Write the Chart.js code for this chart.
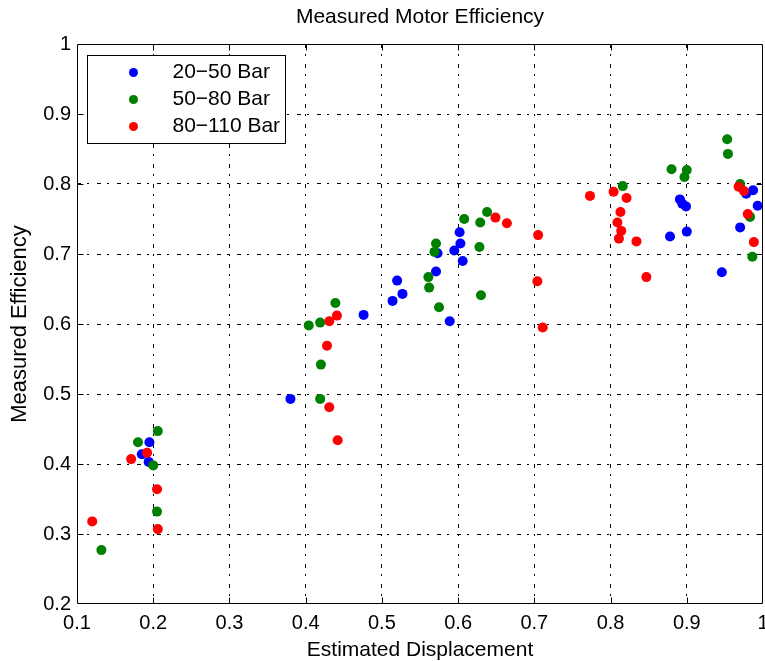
<!DOCTYPE html>
<html>
<head>
<meta charset="utf-8">
<title>Measured Motor Efficiency</title>
<script src="https://cdn.jsdelivr.net/npm/chart.js@4/dist/chart.umd.min.js"></script>
<style>
  html, body { margin: 0; padding: 0; background: #fff; }
  canvas { display: block; }
</style>
</head>
<body>
<canvas id="chart" width="765" height="661"></canvas>
<script>
// Pressure bands
const seriesLabels = ['20\u221250 Bar', '50\u221280 Bar', '80\u2212110 Bar'];
const seriesColors = ['#0000ff', '#008000', '#ff0000'];

// 20-50 Bar
const lowDisp = [0.195, 0.185, 0.194, 0.380, 0.476, 0.514, 0.527, 0.520, 0.571, 0.589, 0.573, 0.595, 0.602,
                 0.603, 0.606, 0.878, 0.900, 0.891, 0.894, 0.899, 0.946, 0.987, 0.978, 0.993, 0.970];
const lowEff  = [0.431, 0.414, 0.403, 0.493, 0.613, 0.633, 0.643, 0.662, 0.675, 0.604, 0.701, 0.705, 0.731,
                 0.715, 0.690, 0.725, 0.732, 0.778, 0.772, 0.768, 0.674, 0.791, 0.786, 0.769, 0.738];

// 50-80 Bar
const midDisp = [0.206, 0.180, 0.200, 0.205, 0.132, 0.419, 0.420, 0.404, 0.419, 0.439, 0.562, 0.561, 0.575,
                 0.571, 0.569, 0.608, 0.629, 0.638, 0.628, 0.630, 0.816, 0.880, 0.900, 0.897, 0.953, 0.954,
                 0.970, 0.983, 0.986];
const midEff  = [0.447, 0.431, 0.398, 0.332, 0.277, 0.493, 0.542, 0.598, 0.602, 0.630, 0.652, 0.667, 0.624,
                 0.715, 0.703, 0.750, 0.745, 0.760, 0.710, 0.641, 0.797, 0.821, 0.820, 0.810, 0.864, 0.843,
                 0.800, 0.753, 0.696];

// 80-110 Bar
const highDisp = [0.192, 0.171, 0.205, 0.206, 0.120, 0.431, 0.442, 0.428, 0.431, 0.441, 0.649, 0.664, 0.705,
                  0.704, 0.711, 0.773, 0.804, 0.821, 0.813, 0.809, 0.814, 0.811, 0.834, 0.847, 0.968, 0.975,
                  0.980, 0.988];
const highEff  = [0.416, 0.407, 0.364, 0.307, 0.318, 0.481, 0.434, 0.569, 0.604, 0.612, 0.752, 0.744, 0.727,
                  0.661, 0.595, 0.783, 0.789, 0.780, 0.760, 0.745, 0.733, 0.722, 0.718, 0.667, 0.796, 0.790,
                  0.757, 0.717];

// Axis ranges and tick positions
const xRange = [0.1, 1.0];
const yRange = [0.2, 1.0];
const tickStep = 0.1;
const xTickValues = [0.2, 0.3, 0.4, 0.5, 0.6, 0.7, 0.8, 0.9];
const yTickValues = [0.3, 0.4, 0.5, 0.6, 0.7, 0.8, 0.9];

const FONT = "'Liberation Sans', Arial, Helvetica, sans-serif";

function toPoints(xs, ys) {
  return xs.map((v, i) => ({ x: v, y: ys[i] }));
}

// Tick text without trailing zeros: 0.1 ... 1
const tickText = (v) => String(Number(v.toFixed(1)));

const seriesData = [toPoints(lowDisp, lowEff), toPoints(midDisp, midEff), toPoints(highDisp, highEff)];

const datasets = seriesData.map((pts, i) => ({
  label: seriesLabels[i],
  data: pts,
  backgroundColor: seriesColors[i],
  borderColor: seriesColors[i],
  borderWidth: 0,
  pointRadius: 5,
  pointHoverRadius: 5,
  order: 3 - i,      // later bands are painted on top
  clip: false
}));

// Box around the plot with inward tick marks on all four sides
const framePlugin = {
  id: 'frame',
  afterDatasetsDraw(chart) {
    const { ctx, chartArea: a, scales: { x, y } } = chart;
    const L = Math.round(a.left) + 0.5, R = Math.round(a.right) - 0.5;
    const T = Math.round(a.top) + 0.5, B = Math.round(a.bottom) - 0.5;
    const len = 6;
    ctx.save();
    ctx.strokeStyle = '#000';
    ctx.lineWidth = 1;
    ctx.beginPath();
    ctx.rect(L, T, R - L, B - T);
    xTickValues.forEach(v => {
      const px = Math.round(x.getPixelForValue(v)) + 0.5;
      ctx.moveTo(px, B); ctx.lineTo(px, B - len);
      ctx.moveTo(px, T); ctx.lineTo(px, T + len);
    });
    yTickValues.forEach(v => {
      const py = Math.round(y.getPixelForValue(v)) + 0.5;
      ctx.moveTo(L, py); ctx.lineTo(L + len, py);
      ctx.moveTo(R, py); ctx.lineTo(R - len, py);
    });
    ctx.stroke();
    ctx.restore();
  }
};

// Boxed legend inside the upper-left corner of the plot
const boxLegendPlugin = {
  id: 'boxLegend',
  afterDraw(chart) {
    const { ctx, chartArea: a } = chart;
    const bx = a.left + 10.5, by = a.top + 11.5, bw = 198, bh = 88;
    ctx.save();
    ctx.fillStyle = '#fff';
    ctx.strokeStyle = '#000';
    ctx.lineWidth = 1;
    ctx.fillRect(bx, by, bw, bh);
    ctx.strokeRect(bx, by, bw, bh);
    ctx.font = "21px " + FONT;
    ctx.textBaseline = 'middle';
    ctx.textAlign = 'left';
    chart.data.datasets.forEach((ds, i) => {
      const cy = by + 17 + i * 27;
      ctx.fillStyle = ds.backgroundColor;
      ctx.beginPath();
      ctx.arc(bx + 46, cy, 4.5, 0, Math.PI * 2);
      ctx.fill();
      ctx.fillStyle = '#000';
      ctx.fillText(ds.label, bx + 85, cy);
    });
    ctx.restore();
  }
};

// Dash-dot grid lines
const gridDash = [4, 6, 2, 8];

const hideEdge = (range) => (c) =>
  (c.tick && (c.tick.value <= range[0] + 1e-9 || c.tick.value >= range[1] - 1e-9)) ? 'rgba(0,0,0,0)' : '#000';

// Fixed axis thickness; end labels may hang past the plot edges
function fitX(scale) {
  scale.height = 57;
  scale.paddingLeft = 0;
  scale.paddingRight = 0;
}
function fitY(scale) {
  scale.width = 77;
  scale.paddingTop = 0;
  scale.paddingBottom = 0;
}

new Chart(document.getElementById('chart'), {
  type: 'scatter',
  data: { datasets },
  options: {
    responsive: false,
    animation: false,
    devicePixelRatio: 1,
    layout: { autoPadding: false, padding: { top: 0, right: 2, bottom: 0, left: 0 } },
    plugins: {
      legend: { display: false },
      tooltip: { enabled: false },
      title: {
        display: true,
        fullSize: false,   // centred over the plot area
        text: 'Measured Motor Efficiency',
        color: '#000',
        font: { family: FONT, size: 21, weight: 'normal', lineHeight: 1.2 },
        padding: { top: 5, bottom: 13.8 }
      }
    },
    scales: {
      x: {
        type: 'linear',
        min: xRange[0],
        max: xRange[1],
        afterFit: fitX,
        ticks: {
          stepSize: tickStep,
          color: '#000',
          padding: 7,
          maxRotation: 0,
          font: { family: FONT, size: 20, lineHeight: 1.2 },
          callback: tickText
        },
        grid: { color: hideEdge(xRange), lineWidth: 1, drawTicks: false },
        border: { display: false, dash: gridDash },
        title: {
          display: true,
          text: 'Estimated Displacement',
          color: '#000',
          font: { family: FONT, size: 21, lineHeight: 1 },
          padding: { top: 0, bottom: 0.5 }
        }
      },
      y: {
        type: 'linear',
        min: yRange[0],
        max: yRange[1],
        afterFit: fitY,
        ticks: {
          stepSize: tickStep,
          color: '#000',
          padding: 6,
          font: { family: FONT, size: 20, lineHeight: 1.2 },
          callback: tickText
        },
        grid: { color: hideEdge(yRange), lineWidth: 1, drawTicks: false },
        border: { display: false, dash: gridDash },
        title: {
          display: true,
          text: 'Measured Efficiency',
          color: '#000',
          font: { family: FONT, size: 22, lineHeight: 1 },
          padding: { top: 8.5, bottom: 0 }
        }
      }
    }
  },
  plugins: [framePlugin, boxLegendPlugin]
});
</script>
</body>
</html>
